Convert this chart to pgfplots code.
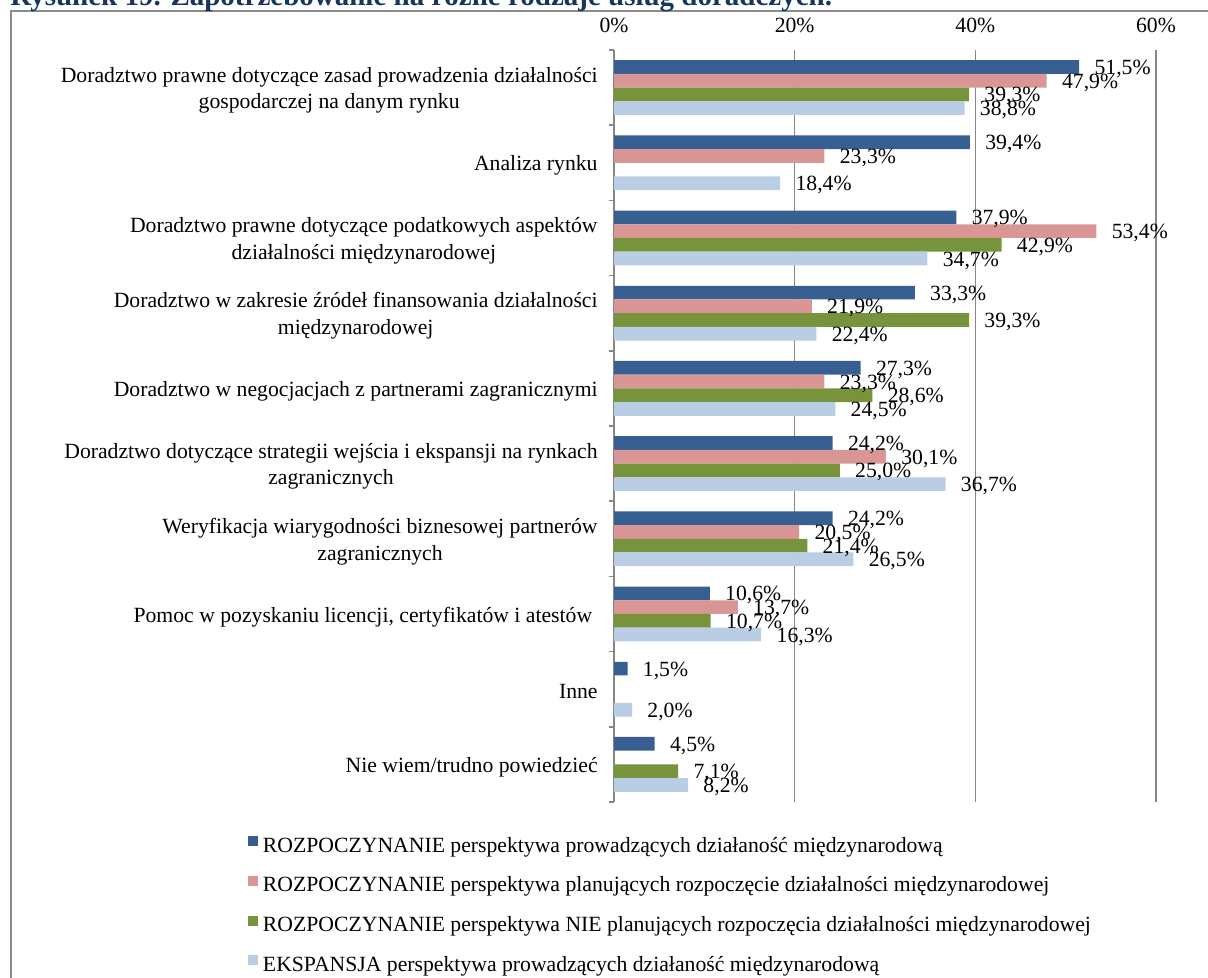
\documentclass[border=0pt]{standalone}
\usepackage{pgfplots}
\pgfplotsset{compat=1.18}
\usepackage{fontspec}
\setmainfont{Liberation Serif}
\definecolor{sA}{HTML}{385F91}
\definecolor{sB}{HTML}{D99694}
\definecolor{sC}{HTML}{77933C}
\definecolor{sD}{HTML}{B9CDE5}
\definecolor{gridgray}{HTML}{868686}
\definecolor{framegray}{HTML}{8C8C8C}
\definecolor{titleblue}{HTML}{17365D}
\pgfplotsset{sqlegend/.style={legend image code/.code={\fill[##1,draw=none] (0pt,0.3pt) rectangle (5pt,5.3pt);}}}
\begin{document}
\fontsize{10.85pt}{13.3pt}\selectfont
\begin{tikzpicture}
\useasboundingbox (0,0) rectangle (604pt,489pt);
\draw[framegray, line width=1.1pt] (5.6pt,-5pt) -- (5.6pt,483.6pt) -- (615pt,483.6pt);
\node[anchor=base west, inner sep=0pt, text=titleblue, font=\bfseries\fontsize{14.5pt}{16pt}\selectfont] at (5pt,486pt) {Rysunek 19. Zapotrzebowanie na różne rodzaje usług doradczych.};
\begin{axis}[
  at={(307pt,88pt)}, anchor=south west,
  scale only axis, width=271pt, height=376pt,
  xmin=0, xmax=60, ymin=0.5, ymax=10.5,
  xbar, bar width=6.85pt, clip=false,
  axis x line*=top, axis y line*=left,
  x axis line style={draw=none},
  y axis line style={draw=gridgray, line width=1pt},
  xtick={0,20,40,60}, xticklabels={0\%,20\%,40\%,60\%},
  xmajorgrids, major grid style={draw=gridgray, line width=0.8pt},
  ytick={1,...,10},
  yticklabels={
    {Nie wiem/trudno powiedzieć},
    {Inne},
    {Pomoc w pozyskaniu licencji, certyfikatów i atestów\ },
    {Weryfikacja wiarygodności biznesowej partnerów\\zagranicznych},
    {Doradztwo dotyczące strategii wejścia i ekspansji na rynkach\\zagranicznych},
    {Doradztwo w negocjacjach z partnerami zagranicznymi},
    {Doradztwo w zakresie źródeł finansowania działalności\\międzynarodowej},
    {Doradztwo prawne dotyczące podatkowych aspektów\\działalności międzynarodowej},
    {Analiza rynku},
    {Doradztwo prawne dotyczące zasad prowadzenia działalności\\gospodarczej na danym rynku}},
  minor ytick={0.5,1.5,...,10.5},
  tick align=outside,
  major tick length=0pt, minor tick length=2.6pt,
  minor tick style={draw=gridgray, line width=0.8pt},
  yticklabel style={align=center, inner sep=0pt, xshift=-8pt, yshift=-1.4pt},
  xticklabel style={inner sep=0pt, yshift=8.5pt},
  point meta=explicit symbolic,
  nodes near coords,
  nodes near coords style={anchor=west, inner sep=0pt, xshift=7.5pt, yshift=-1pt},
  legend style={at={(axis description cs:-0.6753,-0.0452)}, anchor=north west,
    draw=none, fill=none, inner sep=0pt, outer sep=0pt,
    row sep=9.35pt, column sep=2.5pt,
    nodes={inner sep=0pt, text height=8pt, text depth=2.5pt}},
  legend cell align=left,
]
\addplot[draw=none, fill=sA, bar shift=10.275pt, sqlegend] coordinates {
  (51.5,10) [51,5\%]
  (39.4,9) [39,4\%]
  (37.9,8) [37,9\%]
  (33.3,7) [33,3\%]
  (27.3,6) [27,3\%]
  (24.2,5) [24,2\%]
  (24.2,4) [24,2\%]
  (10.6,3) [10,6\%]
  (1.5,2) [1,5\%]
  (4.5,1) [4,5\%]
};
\addlegendentry{ROZPOCZYNANIE perspektywa prowadzących działaność międzynarodową}
\addplot[draw=none, fill=sB, bar shift=3.425pt, sqlegend] coordinates {
  (47.9,10) [47,9\%]
  (23.3,9) [23,3\%]
  (53.4,8) [53,4\%]
  (21.9,7) [21,9\%]
  (23.3,6) [23,3\%]
  (30.1,5) [30,1\%]
  (20.5,4) [20,5\%]
  (13.7,3) [13,7\%]
};
\addlegendentry{ROZPOCZYNANIE perspektywa planujących rozpoczęcie działalności międzynarodowej}
\addplot[draw=none, fill=sC, bar shift=-3.425pt, sqlegend] coordinates {
  (39.3,10) [39,3\%]
  (42.9,8) [42,9\%]
  (39.3,7) [39,3\%]
  (28.6,6) [28,6\%]
  (25.0,5) [25,0\%]
  (21.4,4) [21,4\%]
  (10.7,3) [10,7\%]
  (7.1,1) [7,1\%]
};
\addlegendentry{ROZPOCZYNANIE perspektywa NIE planujących rozpoczęcia działalności międzynarodowej}
\addplot[draw=none, fill=sD, bar shift=-10.275pt, sqlegend] coordinates {
  (38.8,10) [38,8\%]
  (18.4,9) [18,4\%]
  (34.7,8) [34,7\%]
  (22.4,7) [22,4\%]
  (24.5,6) [24,5\%]
  (36.7,5) [36,7\%]
  (26.5,4) [26,5\%]
  (16.3,3) [16,3\%]
  (2.0,2) [2,0\%]
  (8.2,1) [8,2\%]
};
\addlegendentry{EKSPANSJA perspektywa prowadzących działaność międzynarodową}
\end{axis}
\end{tikzpicture}
\end{document}
